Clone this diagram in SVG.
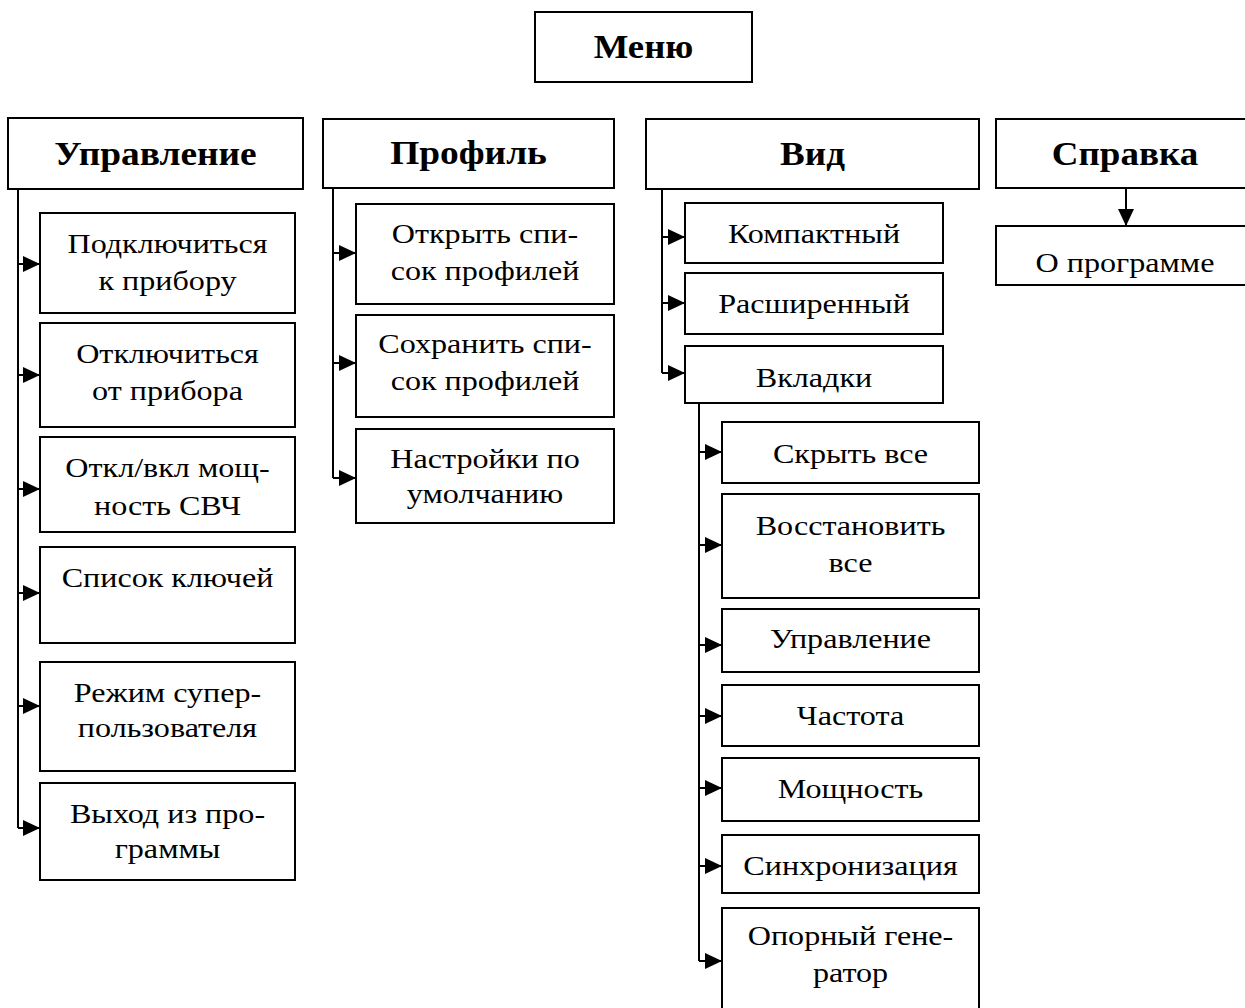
<svg xmlns="http://www.w3.org/2000/svg" width="1245" height="1008" viewBox="0 0 1245 1008">
<style>
.box{fill:#fff;stroke:#000;stroke-width:2}
.h{font-family:"Liberation Serif","Times New Roman",serif;font-weight:bold;font-size:34px;text-anchor:middle;fill:#000}
.t{font-family:"Liberation Serif","Times New Roman",serif;font-size:27px;text-anchor:middle;fill:#000}
.c{fill:none;stroke:#000;stroke-width:2}
</style>
<defs>
<marker id="ar" viewBox="0 0 17 16" refX="17" refY="8" markerWidth="17" markerHeight="16" markerUnits="userSpaceOnUse" orient="auto">
<path d="M0,0 L17,8 L0,16 z" fill="#000"/>
</marker>
</defs>
<rect width="1245" height="1008" fill="#fff"/>
<g id="connectors">
<path class="c" d="M18,189 V828"/>
<path class="c" d="M18,264 H40" marker-end="url(#ar)"/>
<path class="c" d="M18,375 H40" marker-end="url(#ar)"/>
<path class="c" d="M18,489 H40" marker-end="url(#ar)"/>
<path class="c" d="M18,593 H40" marker-end="url(#ar)"/>
<path class="c" d="M18,706 H40" marker-end="url(#ar)"/>
<path class="c" d="M18,828 H40" marker-end="url(#ar)"/>
<path class="c" d="M333,188 V478"/>
<path class="c" d="M333,253 H356" marker-end="url(#ar)"/>
<path class="c" d="M333,363 H356" marker-end="url(#ar)"/>
<path class="c" d="M333,478 H356" marker-end="url(#ar)"/>
<path class="c" d="M662,189 V373"/>
<path class="c" d="M662,237 H685" marker-end="url(#ar)"/>
<path class="c" d="M662,303 H685" marker-end="url(#ar)"/>
<path class="c" d="M662,373 H685" marker-end="url(#ar)"/>
<path class="c" d="M699,403 V961"/>
<path class="c" d="M699,452 H722" marker-end="url(#ar)"/>
<path class="c" d="M699,545 H722" marker-end="url(#ar)"/>
<path class="c" d="M699,645 H722" marker-end="url(#ar)"/>
<path class="c" d="M699,716 H722" marker-end="url(#ar)"/>
<path class="c" d="M699,788 H722" marker-end="url(#ar)"/>
<path class="c" d="M699,866 H722" marker-end="url(#ar)"/>
<path class="c" d="M699,961 H722" marker-end="url(#ar)"/>
<path class="c" d="M1126,189 V226" marker-end="url(#ar)"/>
</g>
<g id="menu"><rect class="box" x="535" y="12" width="217" height="70"/><text class="h" transform="translate(643.5 58) scale(1.08 1)">Меню</text></g>
<g id="upr"><rect class="box" x="8" y="118" width="295" height="71"/><text class="h" transform="translate(155.5 165) scale(1.1 1)">Управление</text></g>
<g id="u1"><rect class="box" x="40" y="213" width="255" height="100"/><text class="t" transform="translate(167.5 253) scale(1.19 1)">Подключиться</text><text class="t" transform="translate(167.5 290) scale(1.19 1)">к прибору</text></g>
<g id="u2"><rect class="box" x="40" y="323" width="255" height="104"/><text class="t" transform="translate(167.5 363) scale(1.19 1)">Отключиться</text><text class="t" transform="translate(167.5 400) scale(1.19 1)">от прибора</text></g>
<g id="u3"><rect class="box" x="40" y="437" width="255" height="95"/><text class="t" transform="translate(167.5 477) scale(1.19 1)">Откл/вкл мощ-</text><text class="t" transform="translate(167.5 515) scale(1.19 1)">ность СВЧ</text></g>
<g id="u4"><rect class="box" x="40" y="547" width="255" height="96"/><text class="t" transform="translate(167.5 587) scale(1.19 1)">Список ключей</text></g>
<g id="u5"><rect class="box" x="40" y="662" width="255" height="109"/><text class="t" transform="translate(167.5 702) scale(1.19 1)">Режим супер-</text><text class="t" transform="translate(167.5 737) scale(1.19 1)">пользователя</text></g>
<g id="u6"><rect class="box" x="40" y="783" width="255" height="97"/><text class="t" transform="translate(167.5 823) scale(1.19 1)">Выход из про-</text><text class="t" transform="translate(167.5 858) scale(1.19 1)">граммы</text></g>
<g id="prof"><rect class="box" x="323" y="119" width="291" height="69"/><text class="h" transform="translate(468.5 164) scale(1.1 1)">Профиль</text></g>
<g id="p1"><rect class="box" x="356" y="204" width="258" height="100"/><text class="t" transform="translate(485 243) scale(1.19 1)">Открыть спи-</text><text class="t" transform="translate(485 280) scale(1.19 1)">сок профилей</text></g>
<g id="p2"><rect class="box" x="356" y="315" width="258" height="102"/><text class="t" transform="translate(485 353) scale(1.19 1)">Сохранить спи-</text><text class="t" transform="translate(485 390) scale(1.19 1)">сок профилей</text></g>
<g id="p3"><rect class="box" x="356" y="429" width="258" height="94"/><text class="t" transform="translate(485 468) scale(1.19 1)">Настройки по</text><text class="t" transform="translate(485 503) scale(1.19 1)">умолчанию</text></g>
<g id="vid"><rect class="box" x="646" y="119" width="333" height="70"/><text class="h" transform="translate(812.5 165) scale(1.09 1)">Вид</text></g>
<g id="v1"><rect class="box" x="685" y="203" width="258" height="60"/><text class="t" transform="translate(814 243) scale(1.19 1)">Компактный</text></g>
<g id="v2"><rect class="box" x="685" y="273" width="258" height="61"/><text class="t" transform="translate(814 313) scale(1.19 1)">Расширенный</text></g>
<g id="v3"><rect class="box" x="685" y="346" width="258" height="57"/><text class="t" transform="translate(814 387) scale(1.19 1)">Вкладки</text></g>
<g id="t1"><rect class="box" x="722" y="422" width="257" height="61"/><text class="t" transform="translate(850.5 463) scale(1.19 1)">Скрыть все</text></g>
<g id="t2"><rect class="box" x="722" y="494" width="257" height="104"/><text class="t" transform="translate(850.5 535) scale(1.19 1)">Восстановить</text><text class="t" transform="translate(850.5 572) scale(1.19 1)">все</text></g>
<g id="t3"><rect class="box" x="722" y="609" width="257" height="63"/><text class="t" transform="translate(850.5 648) scale(1.19 1)">Управление</text></g>
<g id="t4"><rect class="box" x="722" y="685" width="257" height="61"/><text class="t" transform="translate(850.5 725) scale(1.19 1)">Частота</text></g>
<g id="t5"><rect class="box" x="722" y="758" width="257" height="63"/><text class="t" transform="translate(850.5 798) scale(1.19 1)">Мощность</text></g>
<g id="t6"><rect class="box" x="722" y="835" width="257" height="58"/><text class="t" transform="translate(850.5 875) scale(1.19 1)">Синхронизация</text></g>
<g id="t7"><rect class="box" x="722" y="908" width="257" height="110"/><text class="t" transform="translate(850.5 945) scale(1.19 1)">Опорный гене-</text><text class="t" transform="translate(850.5 982) scale(1.19 1)">ратор</text></g>
<g id="spr"><rect class="box" x="996" y="119" width="258" height="69"/><text class="h" transform="translate(1125 165) scale(1.09 1)">Справка</text></g>
<g id="s1"><rect class="box" x="996" y="226" width="258" height="59"/><text class="t" transform="translate(1125 272) scale(1.19 1)">О программе</text></g>
</svg>
